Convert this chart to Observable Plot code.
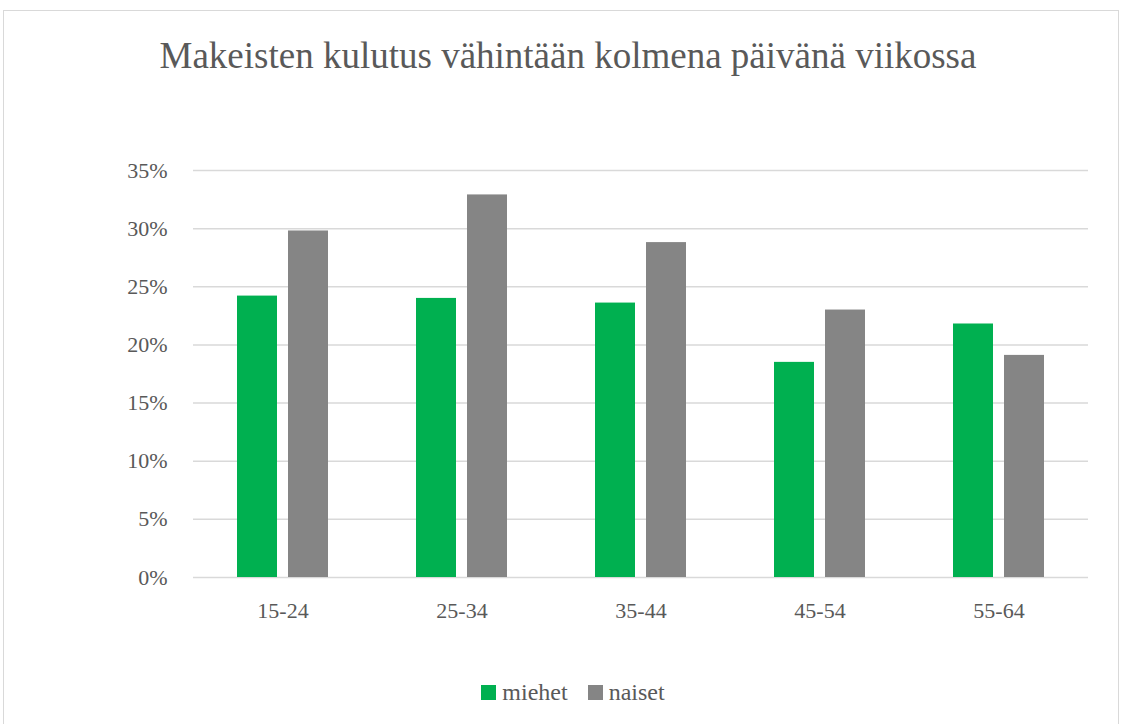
<!DOCTYPE html>
<html>
<head>
<meta charset="utf-8">
<script src="https://cdn.jsdelivr.net/npm/d3@7"></script>
<script src="https://cdn.jsdelivr.net/npm/@observablehq/plot@0.6"></script>
<style>
  html, body { margin: 0; padding: 0; background: #fff; }
  #wrap { position: relative; width: 1126px; height: 724px; overflow: hidden; font-family: "Liberation Serif", "Times New Roman", serif; color: #595959; }
  #frame { position: absolute; left: 3px; top: 10px; width: 1116px; height: 730px; border: 1px solid #d9d9d9; box-sizing: border-box; }
  #title { position: absolute; left: 10px; width: 1116px; top: 36px; text-align: center; font-size: 37px; line-height: 40px; color: #595959; white-space: nowrap; }
  #chart { position: absolute; left: 0; top: 140px; }
  #legend { position: absolute; left: 0; width: 1126px; top: 678px; text-align: center; font-size: 24px; line-height: 28px; padding-left: 20px; box-sizing: border-box; white-space: nowrap; }
  .item { display: inline-block; margin: 0 10px; }
  .sw { width: 15px; height: 15px; display: inline-block; margin-right: 6px; }
  #chart svg text { font-family: "Liberation Serif", "Times New Roman", serif; }
</style>
</head>
<body>
<div id="wrap">
  <div id="frame"></div>
  <div id="title">Makeisten kulutus vähintään kolmena päivänä viikossa</div>
  <div id="chart"></div>
  <div id="legend"></div>
</div>
<script>
const categories = ["15-24", "25-34", "35-44", "45-54", "55-64"];
const series = ["miehet", "naiset"];
const miehet = [24.2, 24.0, 23.6, 18.5, 21.8];
const naiset = [29.8, 32.9, 28.8, 23.0, 19.1];
const colors = ["#00b050", "#858585"];
const yTicks = [0, 5, 10, 15, 20, 25, 30, 35];

const data = [];
categories.forEach((c, i) => {
  data.push({ group: c, series: "miehet", value: miehet[i] });
  data.push({ group: c, series: "naiset", value: naiset[i] });
});

const svgTop = 140;
const chart = Plot.plot({
  width: 1126,
  height: 520,
  marginLeft: 193,
  marginRight: 38,
  marginTop: 170 - svgTop,
  marginBottom: 520 - (577 - svgTop),
  style: { fontFamily: "'Liberation Serif', 'Times New Roman', serif", fontSize: "22px", color: "#595959", background: "transparent" },
  fx: { domain: categories, padding: 0, label: null, tickSize: 0, tickPadding: 25 },
  x: { domain: series, axis: null, paddingInner: 11 / 51, paddingOuter: 44 / 51 },
  y: { domain: [0, 35], ticks: yTicks, tickFormat: d => d + "%", label: null, tickSize: 0, tickPadding: 26, grid: false },
  color: { domain: series, range: colors },
  marks: [
    Plot.ruleY(yTicks, { stroke: "#d9d9d9", strokeWidth: 1.5, strokeOpacity: 1 }),
    Plot.barY(data, { fx: "group", x: "series", y: "value", fill: "series" })
  ]
});
document.getElementById("chart").appendChild(chart);

const legend = document.getElementById("legend");
series.forEach((s, i) => {
  const item = document.createElement("span");
  item.className = "item";
  const sw = document.createElement("span");
  sw.className = "sw";
  sw.style.background = colors[i];
  const t = document.createElement("span");
  t.textContent = s;
  item.appendChild(sw);
  item.appendChild(t);
  legend.appendChild(item);
});
</script>
</body>
</html>
